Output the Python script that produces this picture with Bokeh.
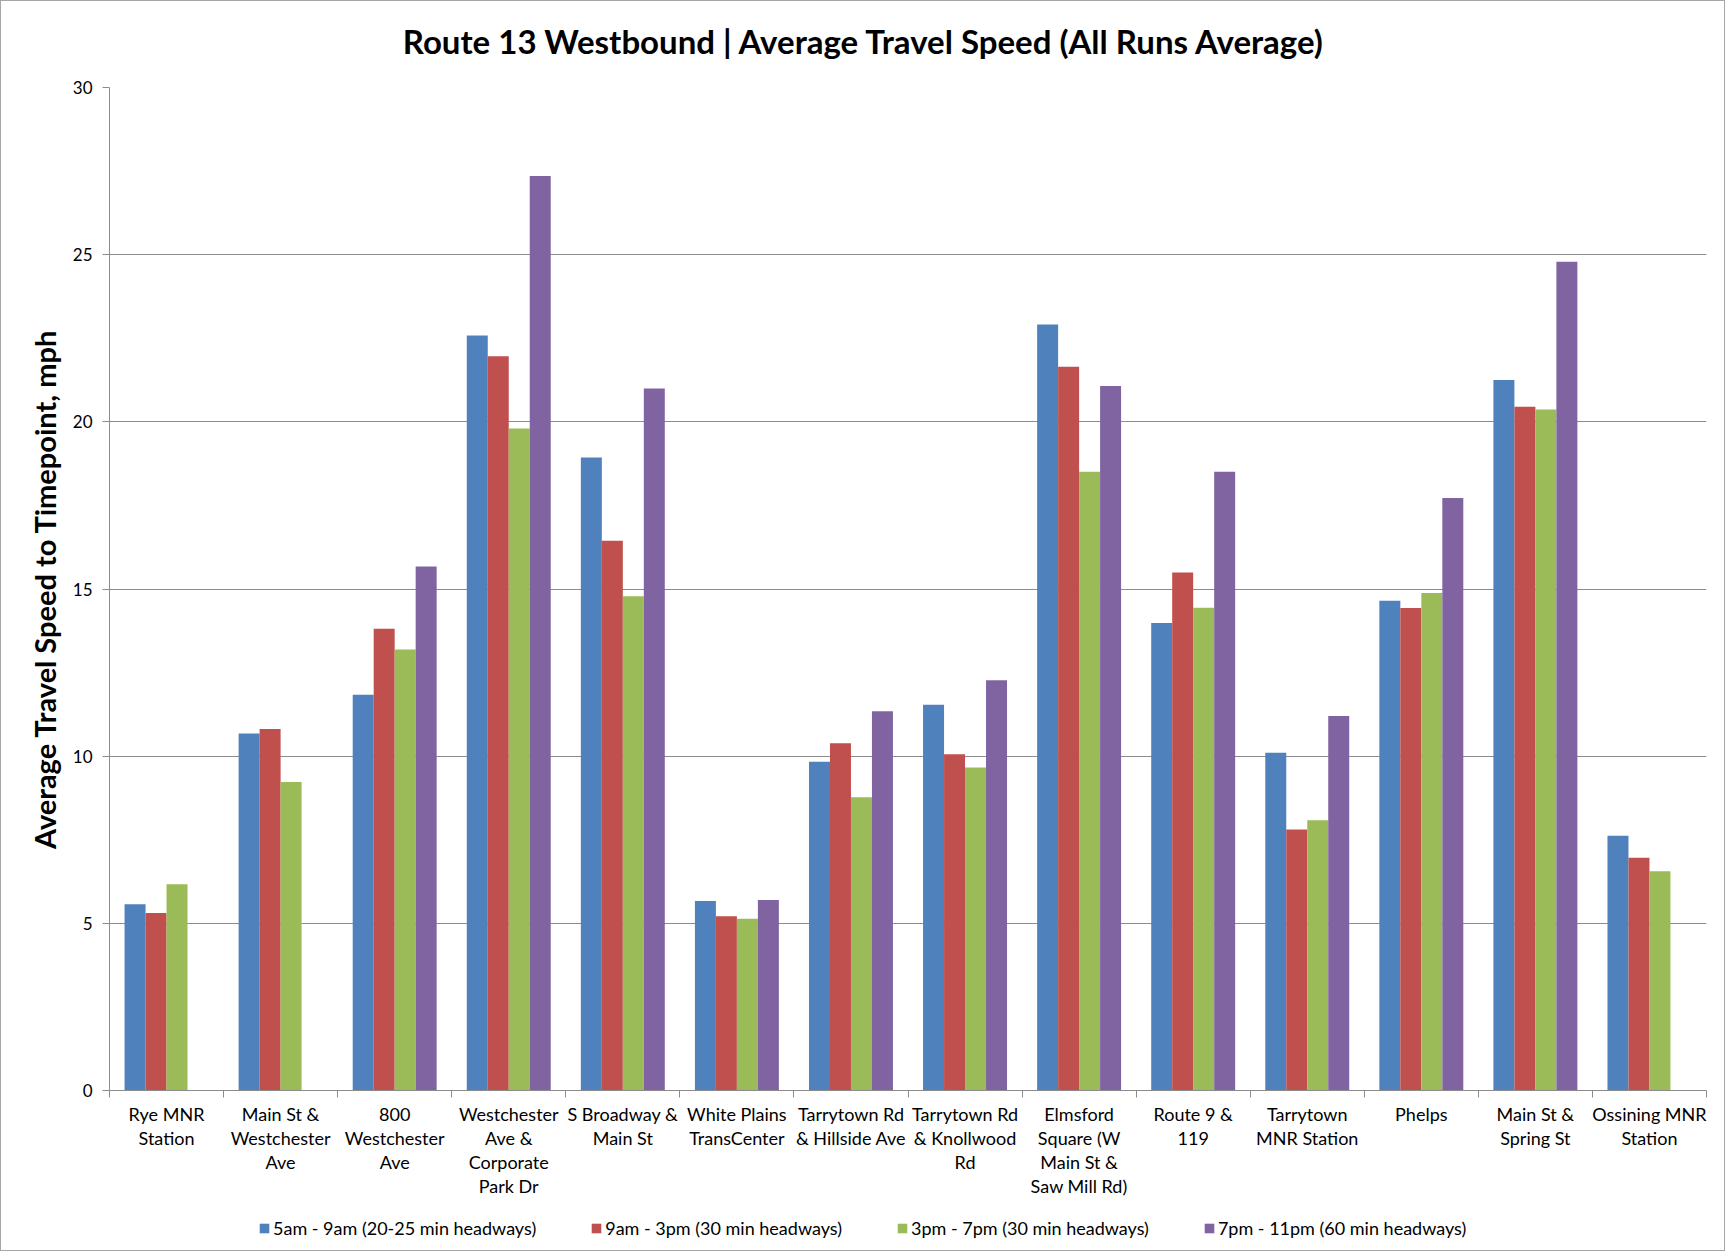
from bokeh.plotting import figure
from bokeh.layouts import column
from bokeh.models import (ColumnDataSource, Range1d, FixedTicker, Legend, LegendItem,
                          CustomJSTickFormatter, Label)
from bokeh.transform import dodge
from bokeh.embed import file_html
from bokeh.resources import INLINE

# ---------------- data ----------------
title_text = "Route 13 Westbound | Average Travel Speed (All Runs Average)"
categories = ["Rye MNR Station", "Main St & Westchester Ave", "800 Westchester Ave",
              "Westchester Ave & Corporate Park Dr", "S Broadway & Main St",
              "White Plains TransCenter", "Tarrytown Rd & Hillside Ave",
              "Tarrytown Rd & Knollwood Rd", "Elmsford Square (W Main St & Saw Mill Rd)",
              "Route 9 & 119", "Tarrytown MNR Station", "Phelps", "Main St & Spring St",
              "Ossining MNR Station"]
tick_labels = ["Rye MNR\nStation", "Main St &\nWestchester\nAve", "800\nWestchester\nAve",
               "Westchester\nAve &\nCorporate\nPark Dr", "S Broadway &\nMain St",
               "White Plains\nTransCenter", "Tarrytown Rd\n& Hillside Ave",
               "Tarrytown Rd\n& Knollwood\nRd", "Elmsford\nSquare (W\nMain St &\nSaw Mill Rd)",
               "Route 9 &\n119", "Tarrytown\nMNR Station", "Phelps", "Main St &\nSpring St",
               "Ossining MNR\nStation"]
series_names = ["5am - 9am (20-25 min headways)", "9am - 3pm (30 min headways)",
                "3pm - 7pm (30 min headways)", "7pm - 11pm (60 min headways)"]
am_5_9 = [5.57, 10.68, 11.84, 22.58, 18.93, 5.67, 9.83, 11.54, 22.91, 13.98, 10.10, 14.65, 21.25, 7.62]
mid_9_3 = [5.31, 10.81, 13.81, 21.96, 16.44, 5.21, 10.39, 10.06, 21.65, 15.49, 7.81, 14.43, 20.45, 6.96]
pm_3_7 = [6.17, 9.23, 13.19, 19.80, 14.78, 5.14, 8.77, 9.66, 18.51, 14.44, 8.08, 14.88, 20.37, 6.56]
eve_7_11 = [None, None, 15.67, 27.35, 21.00, 5.70, 11.34, 12.27, 21.07, 18.51, 11.20, 17.72, 24.79, None]
y_ticks = [0, 5, 10, 15, 20, 25, 30]

colors = ["#4F81BD", "#C0504D", "#9BBB59", "#8064A2"]
FONT = "Lato"
BORDER = "1px solid #a6a6a6"

n = len(categories)
centers = [i + 0.5 for i in range(n)]
bounds = list(range(n + 1))

W = 1725
H_TITLE = 75
H_MAIN = 1126
H_LEG = 50

# ---------- title strip ----------
tf = figure(width=W, height=H_TITLE, output_backend="svg", toolbar_location=None,
            x_range=Range1d(0, 1), y_range=Range1d(0, 1),
            x_axis_location=None, y_axis_location=None,
            min_border_left=0, min_border_right=0, min_border_top=0, min_border_bottom=0)
tf.styles = {"border-top": BORDER, "border-left": BORDER, "border-right": BORDER}
tf.grid.visible = False
tf.outline_line_color = None
tf.add_layout(Label(x=0.4728, y=0.48, text=title_text, text_align="center",
                    text_baseline="middle", text_font=FONT, text_font_size="33px",
                    text_font_style="bold", text_color="#000000"))

# ---------- main chart ----------
p = figure(width=W, height=H_MAIN, output_backend="svg", toolbar_location=None,
           x_range=Range1d(0, n), y_range=Range1d(0, 30),
           min_border_left=108, min_border_right=20, min_border_top=12, min_border_bottom=111)
p.styles = {"border-left": BORDER, "border-right": BORDER}

bw = 0.184
offsets = [-1.5 * bw, -0.5 * bw, 0.5 * bw, 1.5 * bw]
all_series = [am_5_9, mid_9_3, pm_3_7, eve_7_11]
for vals, name, col, off in zip(all_series, series_names, colors, offsets):
    xs = [c for c, v in zip(centers, vals) if v is not None]
    ys = [v for v in vals if v is not None]
    src = ColumnDataSource(dict(x=xs, top=ys))
    p.vbar(x=dodge("x", off, range=p.x_range), top="top", bottom=0, width=bw,
           source=src, fill_color=col, line_color=None)

# grid
p.xgrid.visible = False
p.ygrid.ticker = FixedTicker(ticks=y_ticks)
p.ygrid.grid_line_color = "#8c8c8c"
p.ygrid.grid_line_width = 1
p.outline_line_color = None

# y axis
p.yaxis.ticker = FixedTicker(ticks=y_ticks)
p.yaxis.axis_line_color = "#8c8c8c"
p.yaxis.major_tick_line_color = "#8c8c8c"
p.yaxis.major_tick_out = 7
p.yaxis.major_tick_in = 0
p.yaxis.minor_tick_line_color = None
p.yaxis.major_label_text_font = FONT
p.yaxis.major_label_text_font_size = "17px"
p.yaxis.major_label_text_color = "#000000"
p.yaxis.major_label_standoff = 10
p.yaxis.axis_label = "Average Travel Speed to Timepoint, mph"
p.yaxis.axis_label_text_font = FONT
p.yaxis.axis_label_text_font_size = "29px"
p.yaxis.axis_label_text_font_style = "bold"
p.yaxis.axis_label_text_color = "#000000"
p.yaxis.axis_label_standoff = 8

# x axis
p.xaxis.ticker = FixedTicker(ticks=centers, minor_ticks=bounds)
p.xaxis.formatter = CustomJSTickFormatter(args=dict(labels=tick_labels),
                                          code="return labels[Math.floor(tick)];")
p.xaxis.axis_line_color = "#8c8c8c"
p.xaxis.major_tick_line_color = None
p.xaxis.minor_tick_line_color = "#8c8c8c"
p.xaxis.minor_tick_out = 7
p.xaxis.minor_tick_in = 0
p.xaxis.major_label_text_font = FONT
p.xaxis.major_label_text_font_size = "18px"
p.xaxis.major_label_text_color = "#000000"
p.xaxis.major_label_text_line_height = 1.1
p.xaxis.major_label_standoff = 5

# ---------- legend strip ----------
lf = figure(width=W, height=H_LEG, output_backend="svg", toolbar_location=None,
            x_range=Range1d(0, 1), y_range=Range1d(0, 1),
            x_axis_location=None, y_axis_location=None,
            min_border_left=0, min_border_right=0, min_border_top=0, min_border_bottom=0)
lf.styles = {"border-bottom": BORDER, "border-left": BORDER, "border-right": BORDER}
lf.grid.visible = False
lf.outline_line_color = None
items = []
for name, col in zip(series_names, colors):
    # legend-only renderer: a zero-height bar, invisible in the strip
    r = lf.vbar(x=[0.5], top=[0], bottom=0, width=0.0, fill_color=col, line_color=None)
    items.append(LegendItem(label=name, renderers=[r]))
legend = Legend(items=items, orientation="horizontal", location=(149, 12),
                glyph_width=12, glyph_height=12, label_standoff=3, spacing=54,
                padding=5, border_line_color=None, background_fill_alpha=0,
                label_text_font=FONT, label_text_font_size="18px", label_text_color="#000000")
lf.add_layout(legend)

layout = column(tf, p, lf, spacing=0)
open("out.html", "w").write(file_html(layout, INLINE))
